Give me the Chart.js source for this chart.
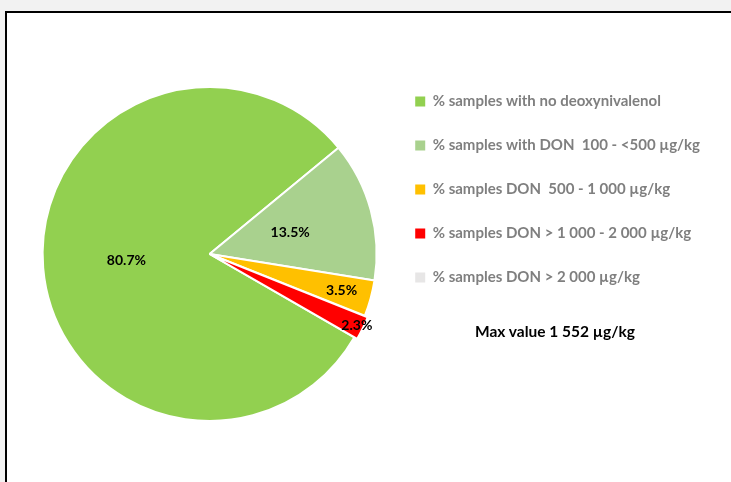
<!DOCTYPE html>
<html>
<head>
<meta charset="utf-8">
<script src="https://cdn.jsdelivr.net/npm/chart.js@4"></script>
<style>
  html, body { margin: 0; padding: 0; background: #f2f2f2; }
  #frame {
    position: absolute; left: 5px; top: 11px; width: 740px; height: 490px;
    background: #fff; border: 2px solid #000; box-sizing: border-box;
  }
  #chart { position: absolute; left: 0; top: 0; }
  #maxValue {
    position: absolute; left: 475px; top: 322px;
    font: bold 15.5px Lato, sans-serif; color: #000;
  }
</style>
</head>
<body>
<div id="frame"></div>
<canvas id="chart" width="731" height="482"></canvas>
<div id="maxValue">Max value 1 552 µg/kg</div>
<script>
// categories and shares (%)
const categories = [
    '% samples with no deoxynivalenol',
    '% samples with DON  100 - <500 µg/kg',
    '% samples DON  500 - 1 000 µg/kg',
    '% samples DON > 1 000 - 2 000 µg/kg',
    '% samples DON > 2 000 µg/kg'
];
const shares = [80.7, 13.5, 3.5, 2.3, 0];
const sliceColors = ['#92d050', '#a9d18e', '#ffc000', '#ff0000', '#e7e6e6'];

// draws the percentage inside each slice
const sliceLabels = {
    id: 'sliceLabels',
    afterDatasetsDraw(chart) {
        const ctx = chart.ctx;
        const meta = chart.getDatasetMeta(0);
        ctx.save();
        ctx.font = 'bold 14px Lato, sans-serif';
        ctx.fillStyle = '#000';
        ctx.textAlign = 'center';
        ctx.textBaseline = 'middle';
        meta.data.forEach((arc, i) => {
            const v = shares[i];
            if (!v) return;
            const mid = (arc.startAngle + arc.endAngle) / 2;
            let f = 0.5;
            if (v < 3) f = 0.98;
            else if (v < 10) f = 0.82;
            const r = arc.outerRadius * f;
            ctx.fillText(v.toFixed(1) + '%', arc.x + Math.cos(mid) * r, arc.y + Math.sin(mid) * r);
        });
        ctx.restore();
    }
};

document.addEventListener('DOMContentLoaded', function() {
    const ctx = document.getElementById('chart').getContext('2d');
    new Chart(ctx, {
        type: 'pie',
        data: {
            labels: categories,
            datasets: [{
                data: shares,
                backgroundColor: sliceColors,
                borderColor: '#ffffff',
                borderWidth: 2,
                offset: [0, 0, 0, 7, 0]
            }]
        },
        options: {
            responsive: false,
            animation: false,
            rotation: 120,
            radius: 167,
            layout: { padding: { left: 33, right: 21, top: 65, bottom: 39 } },
            plugins: {
                tooltip: { enabled: false },
                legend: {
                    position: 'right',
                    align: 'start',
                    labels: {
                        boxWidth: 10,
                        boxHeight: 10,
                        padding: 29,
                        color: '#7f7f7f',
                        font: { family: 'Lato, sans-serif', size: 15, weight: 'bold' },
                        generateLabels(chart) {
                            const items = Chart.controllers.pie.overrides.plugins.legend.labels.generateLabels(chart);
                            return items.map(it => Object.assign(it, { lineWidth: 0, strokeStyle: 'transparent' }));
                        }
                    }
                }
            }
        },
        plugins: [sliceLabels]
    });
});
</script>
</body>
</html>
